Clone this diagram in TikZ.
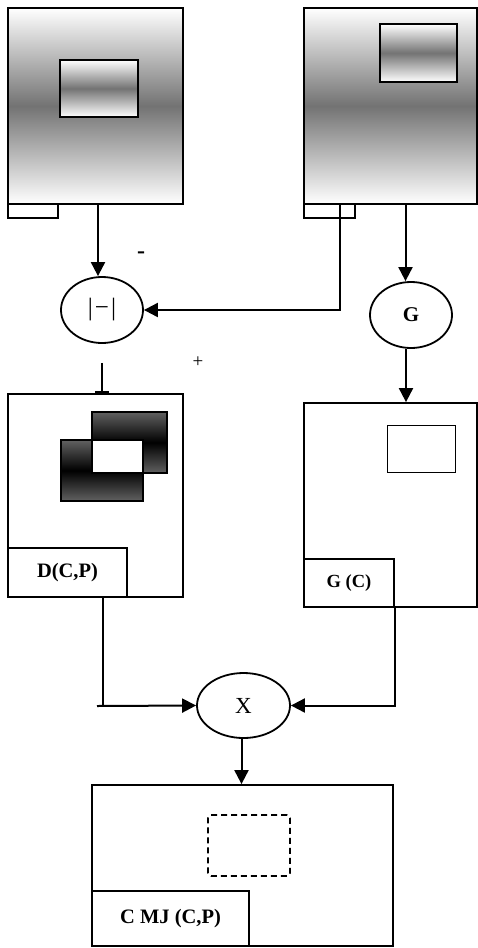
\documentclass[tikz,border=0pt]{standalone}
\usepackage{fontspec}
\setmainfont{Liberation Serif}
\usetikzlibrary{arrows.meta, positioning, shapes.geometric}

\begin{document}
\begin{tikzpicture}[x=1pt, y=-1pt,
    arr/.style={-{Triangle[length=14pt, width=14pt]}, line width=2pt},
    link/.style={line width=2pt},
    frame/.style={rectangle, draw, line width=1.8pt, inner sep=0pt},
    shaded/.style={top color=white, bottom color=white, middle color=black!55},
    darkbar/.style={rectangle, draw, line width=1.8pt, inner sep=0pt, top color=black!62, bottom color=black!62, middle color=black},
    tab/.style={rectangle, draw, line width=1.8pt, inner sep=0pt, fill=white, font=\fontsize{20.5}{22}\selectfont\bfseries},
    op/.style={ellipse, draw, line width=1.8pt, minimum width=82pt, minimum height=66pt, inner sep=0pt, font=\fontsize{25}{27}\selectfont},
]
\useasboundingbox (0,0) rectangle (478,948);

% Input images
\node[frame, shaded, minimum width=175pt, minimum height=196pt] (camL) at (95.5,106) {};
\node[frame, shaded, line width=2.6pt, minimum width=78pt, minimum height=57pt] (objL) at (99,88.5) {};
\node[tab, minimum width=50pt, minimum height=14pt] (tabL) at (33,211) {};

\node[frame, shaded, minimum width=173pt, minimum height=196pt] (camR) at (390.5,106) {};
\node[frame, shaded, line width=2.6pt, minimum width=77pt, minimum height=58pt] (objR) at (418.5,53) {};
\node[tab, minimum width=51pt, minimum height=14pt] (tabR) at (329.5,211) {};

% Operators
\node[op] (diff) at (102,310) {|\hspace{2pt}−\hspace{2pt}|};
\node[op, font=\fontsize{21}{23}\selectfont\bfseries] (gain) at (411,315) {G};
\node[font=\fontsize{24}{26}\selectfont\bfseries] (minus) at (141,255) {-};
\node[font=\fontsize{19}{21}\selectfont] (plus) at (198,362) {+};

% Difference image
\node[frame, minimum width=175pt, minimum height=203pt] (dbox) at (95.5,495.5) {};
\node[darkbar, minimum width=75pt, minimum height=61pt] (barA) at (129.5,442.5) {};
\node[darkbar, minimum width=82pt, minimum height=61pt] (barB) at (102,470.5) {};
\node[frame, fill=white, minimum width=51pt, minimum height=33pt] (hole) at (117.5,456.5) {};
\node[tab, minimum width=119pt, minimum height=49pt] (dtab) at (67.5,572.5) {D(C,P)\hspace{10pt}};

% Weighted image
\node[frame, minimum width=173pt, minimum height=204pt] (gbox) at (390.5,505) {};
\node[frame, line width=1pt, minimum width=68pt, minimum height=47pt] (gobj) at (421,448.5) {};
\node[tab, font=\fontsize{18.5}{20}\selectfont\bfseries, minimum width=90pt, minimum height=48pt] (gtab) at (349,583) {G (C)};

% Product
\node[op, font=\fontsize{23}{25}\selectfont, minimum width=93pt, minimum height=65pt] (prod) at (243.5,705.5) {X};

% Result
\node[frame, minimum width=301pt, minimum height=161pt] (mj) at (242.5,865.5) {};
\node[frame, dashed, dash pattern=on 6pt off 4pt, line width=1.6pt, rounded corners=3pt, minimum width=82pt, minimum height=61pt] (mjobj) at (249,845.5) {};
\node[tab, minimum width=157pt, minimum height=55pt] (mjtab) at (170.5,918.5) {C MJ (C,P)\hspace{6pt}};

% Connectors
\draw[arr] ([xshift=2.5pt]camL.south) -- ([xshift=2.5pt]camL.south |- diff.north);
\draw[arr] ([xshift=10.5pt]tabR.north) |- (diff.east);
\draw[arr] ([xshift=15pt]camR.south) -- ([xshift=15pt]camR.south |- gain.north);
\draw[link, -{Bar[width=14pt]}, shorten <=19pt] (diff.south) -- (diff.south |- dbox.north);
\draw[arr] ([xshift=-5pt]gain.south) -- ([xshift=-5pt]gain.south |- gbox.north);

\coordinate (lj) at (97,706);
\draw[link] ([xshift=7.5pt]dbox.south) |- (lj);
\draw[arr] (lj) -- (prod.west);
\draw[arr] (gtab.south east) |- (prod.east);
\draw[arr] ([xshift=-2pt]prod.south) -- ([xshift=-2pt]prod.south |- mj.north);

\end{tikzpicture}
\end{document}
